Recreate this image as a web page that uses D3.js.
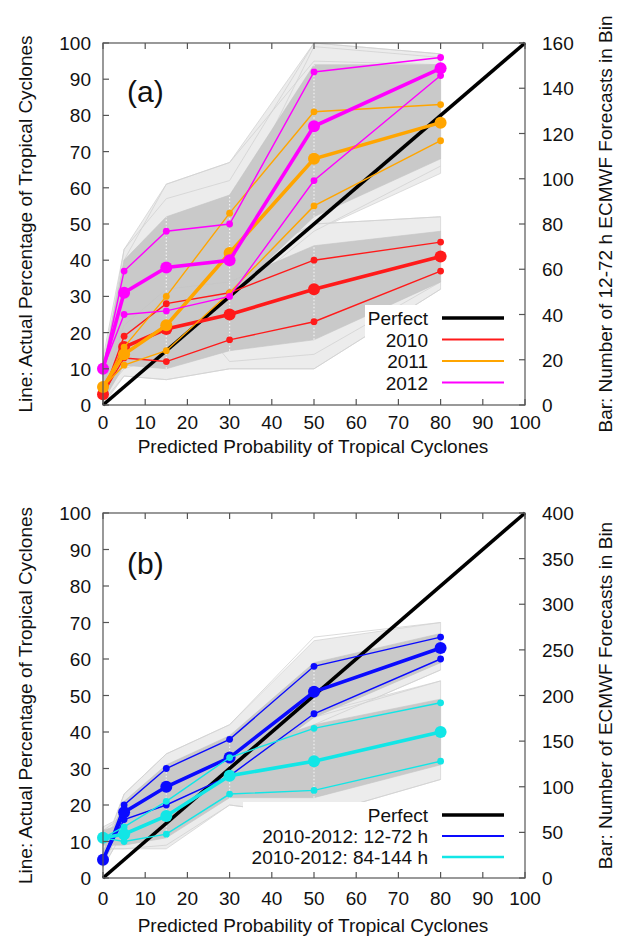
<!DOCTYPE html>
<html>
<head>
<meta charset="utf-8">
<script src="https://cdn.jsdelivr.net/npm/d3@7/dist/d3.min.js"></script>
<style>
  html, body { margin: 0; padding: 0; background: #fff; }
  svg { display: block; }
  text { font-family: "Liberation Sans", Arial, Helvetica, sans-serif; fill: #111; }
</style>
</head>
<body>
<svg id="chart" width="621" height="937"></svg>
<script>
// Forecast probability bins (x positions of every reliability curve)
const probBins = [0, 5, 15, 30, 50, 80];
const xTicks = [0, 10, 20, 30, 40, 50, 60, 70, 80, 90, 100];
const yTicks = [0, 10, 20, 30, 40, 50, 60, 70, 80, 90, 100];
const y2TicksA = [0, 20, 40, 60, 80, 100, 120, 140, 160];
const y2TicksB = [0, 50, 100, 150, 200, 250, 300, 350, 400];

// Panel (a): yearly reliability, 12-72 h
const rel2010 = [3, 16, 21, 25, 32, 41];
const rel2010Hi = [3, 19, 28, 31, 40, 45];
const rel2010Lo = [3, 13, 12, 18, 23, 37];
const rel2011 = [5, 14, 22, 42, 68, 78];
const rel2011Hi = [5, 16, 30, 53, 81, 83];
const rel2011Lo = [5, 11, 15, 31, 55, 73];
const rel2012 = [10, 31, 38, 40, 77, 93];
const rel2012Hi = [10, 37, 48, 50, 92, 96];
const rel2012Lo = [10, 25, 26, 30, 62, 91];

// Panel (b): 2010-2012 by lead time
const relShort = [5, 18, 25, 33, 51, 63];
const relShortHi = [5, 20, 30, 38, 58, 66];
const relShortLo = [5, 16, 20, 28, 45, 60];
const relLong = [11, 12, 17, 28, 32, 40];
const relLongHi = [11, 14, 21, 33, 41, 48];
const relLongLo = [11, 10, 12, 23, 24, 32];

// Bootstrap resample clouds: dense core and full spread (lo/hi per bin)
const bootA_upperCoreLo = [3, 12, 16, 30, 52, 68];
const bootA_upperCoreHi = [11, 40, 52, 58, 94, 94];
const bootA_upperAllLo = [2, 10, 14, 28, 48, 64];
const bootA_upperAllHi = [13, 43, 61, 67, 100, 97];
const bootA_lowerCoreLo = [1, 11, 10, 15, 18, 34];
const bootA_lowerCoreHi = [5, 22, 32, 34, 44, 48];
const bootA_lowerAllLo = [0, 8, 7, 10, 10, 32];
const bootA_lowerAllHi = [6, 24, 36, 38, 50, 52];

const bootB_shortCoreLo = [4, 15, 19, 27, 44, 59];
const bootB_shortCoreHi = [7, 21, 31, 39, 59, 67];
const bootB_shortAllLo = [3, 13, 17, 25, 42, 57];
const bootB_shortAllHi = [8, 23, 34, 42, 65, 70];
const bootB_longCoreLo = [9, 9, 11, 22, 22, 31];
const bootB_longCoreHi = [13, 15, 22, 34, 42, 49];
const bootB_longAllLo = [8, 8, 8, 20, 17, 27];
const bootB_longAllHi = [14, 17, 24, 36, 45, 54];

// A few individual outlying resamples
const bootA_strays = [
  [8, 43, 57, 62, 100, 97],
  [6, 40, 61, 67, 95, 94],
  [4, 35, 49, 52, 99, 96],
  [3, 10, 14, 29, 48, 66],
  [2, 24, 36, 38, 50, 52],
  [1, 8, 7, 10, 10, 32],
  [4, 22, 33, 12, 14, 34]
];
const bootB_strays = [
  [7, 23, 34, 42, 66, 70],
  [3, 13, 17, 26, 42, 57],
  [13, 17, 24, 36, 44, 54],
  [8, 8, 9, 20, 17, 27]
];

const svg = d3.select("#chart");

function drawPanel(cfg) {
  const x = d3.scaleLinear().domain([0, 100]).range([103, 525]);
  const y = d3.scaleLinear().domain([0, 100]).range([cfg.bottom, cfg.top]);
  const y2 = d3.scaleLinear().domain([0, cfg.y2max]).range([cfg.bottom, cfg.top]);
  const g = svg.append("g");

  const band = (lo, hi) => d3.area()
    .x((d, i) => x(probBins[i]))
    .y0((d, i) => y(lo[i]))
    .y1((d, i) => y(hi[i]))(probBins);
  const line = d3.line().x((d, i) => x(probBins[i])).y(d => y(d));

  // bootstrap clouds: wide spread, stray members, then dense core
  cfg.clouds.forEach(c => {
    g.append("path").attr("d", band(c.allLo, c.allHi))
      .attr("fill", "#ececec").attr("stroke", "#d4d4d4").attr("stroke-width", 0.8);
  });
  cfg.strays.forEach(s => {
    g.append("path").attr("d", line(s)).attr("fill", "none")
      .attr("stroke", "#d2d2d2").attr("stroke-width", 0.8);
  });
  cfg.clouds.forEach(c => {
    g.append("path").attr("d", band(c.coreLo, c.coreHi))
      .attr("fill", "#c9c9c9").attr("stroke", "#c4c4c4").attr("stroke-width", 0.6);
    // faint count bars running through the cloud at the inner bins
    [2, 3, 4].forEach(i => {
      g.append("line")
        .attr("x1", x(probBins[i])).attr("x2", x(probBins[i]))
        .attr("y1", y(c.coreLo[i])).attr("y2", y(c.coreHi[i]))
        .attr("stroke", "#f2f2f2").attr("stroke-width", 1.2)
        .attr("stroke-dasharray", "1.5,2");
    });
  });

  // perfect reliability diagonal
  g.append("line")
    .attr("x1", x(0)).attr("y1", y(0)).attr("x2", x(100)).attr("y2", y(100))
    .attr("stroke", "#000").attr("stroke-width", 3.6);

  // reliability curves with their 5-95% bounds
  cfg.series.forEach(s => {
    [s.lo, s.hi].forEach(b => {
      g.append("path").attr("d", line(b)).attr("fill", "none")
        .attr("stroke", s.color).attr("stroke-width", 1.4);
    });
    g.append("path").attr("d", line(s.main)).attr("fill", "none")
      .attr("stroke", s.color).attr("stroke-width", 3.6);
    [s.lo, s.hi].forEach(b => {
      g.selectAll(null).data(b.slice(1)).enter().append("circle")
        .attr("cx", (d, i) => x(probBins[i + 1])).attr("cy", d => y(d))
        .attr("r", 3.4).attr("fill", s.color);
    });
    g.selectAll(null).data(s.main).enter().append("circle")
      .attr("cx", (d, i) => x(probBins[i])).attr("cy", d => y(d))
      .attr("r", 6).attr("fill", s.color);
  });

  // legend with opaque background
  const lg = cfg.legend;
  g.append("rect").attr("x", lg.boxX).attr("y", lg.rows[0] - 13)
    .attr("width", 515 - lg.boxX).attr("height", lg.rows[lg.rows.length - 1] - lg.rows[0] + 26)
    .attr("fill", "#fff");
  lg.items.forEach((it, i) => {
    g.append("text").attr("x", 428).attr("y", lg.rows[i] + 7)
      .attr("text-anchor", "end").attr("font-size", 19).text(it.label);
    g.append("line").attr("x1", 442).attr("x2", 504)
      .attr("y1", lg.rows[i]).attr("y2", lg.rows[i])
      .attr("stroke", it.color).attr("stroke-width", it.width);
  });

  // frame and inward ticks
  const axisColor = "#555";
  g.append("rect").attr("x", x(0)).attr("y", y(100))
    .attr("width", x(100) - x(0)).attr("height", y(0) - y(100))
    .attr("fill", "none").attr("stroke", axisColor).attr("stroke-width", 1.2);
  xTicks.forEach(t => {
    g.append("line").attr("x1", x(t)).attr("x2", x(t)).attr("y1", y(0)).attr("y2", y(0) - 6)
      .attr("stroke", axisColor).attr("stroke-width", 1.2);
    g.append("line").attr("x1", x(t)).attr("x2", x(t)).attr("y1", y(100)).attr("y2", y(100) + 6)
      .attr("stroke", axisColor).attr("stroke-width", 1.2);
    g.append("text").attr("x", x(t)).attr("y", cfg.bottom + cfg.xTickDy)
      .attr("text-anchor", "middle").attr("font-size", 19).text(t);
  });
  yTicks.forEach(t => {
    g.append("line").attr("x1", x(0)).attr("x2", x(0) + 6).attr("y1", y(t)).attr("y2", y(t))
      .attr("stroke", axisColor).attr("stroke-width", 1.2);
    g.append("text").attr("x", 91).attr("y", y(t) + 7)
      .attr("text-anchor", "end").attr("font-size", 19).text(t);
  });
  cfg.y2ticks.forEach(t => {
    g.append("line").attr("x1", x(100)).attr("x2", x(100) - 6).attr("y1", y2(t)).attr("y2", y2(t))
      .attr("stroke", axisColor).attr("stroke-width", 1.2);
    g.append("text").attr("x", 542).attr("y", y2(t) + 7)
      .attr("text-anchor", "start").attr("font-size", 19).text(t);
  });

  // axis titles
  const midY = (cfg.top + cfg.bottom) / 2;
  g.append("text").attr("transform", `translate(32,${midY}) rotate(-90)`)
    .attr("text-anchor", "middle").attr("font-size", 19)
    .text("Line: Actual Percentage of Tropical Cyclones");
  g.append("text").attr("transform", `translate(612,${midY}) rotate(-90)`)
    .attr("text-anchor", "middle").attr("font-size", 19)
    .text(cfg.y2title);
  g.append("text").attr("x", (x(0) + x(100)) / 2 - 1).attr("y", cfg.xTitleY)
    .attr("text-anchor", "middle").attr("font-size", 19)
    .text("Predicted Probability of Tropical Cyclones");

  // panel tag
  g.append("text").attr("x", 127).attr("y", cfg.tagY)
    .attr("font-family", "'Open Sans', sans-serif").attr("font-size", 30)
    .text(cfg.tag);
}

drawPanel({
  top: 43, bottom: 405, y2max: 160, y2ticks: y2TicksA,
  y2title: "Bar: Number of 12-72 h ECMWF Forecasts in Bin",
  xTickDy: 24, xTitleY: 453, tag: "(a)", tagY: 102,
  clouds: [
    { coreLo: bootA_upperCoreLo, coreHi: bootA_upperCoreHi, allLo: bootA_upperAllLo, allHi: bootA_upperAllHi },
    { coreLo: bootA_lowerCoreLo, coreHi: bootA_lowerCoreHi, allLo: bootA_lowerAllLo, allHi: bootA_lowerAllHi }
  ],
  strays: bootA_strays,
  series: [
    { main: rel2010, hi: rel2010Hi, lo: rel2010Lo, color: "#ff1a1a" },
    { main: rel2011, hi: rel2011Hi, lo: rel2011Lo, color: "#ffa500" },
    { main: rel2012, hi: rel2012Hi, lo: rel2012Lo, color: "#ff00ff" }
  ],
  legend: {
    boxX: 365, rows: [318, 339.5, 361, 382.5],
    items: [
      { label: "Perfect", color: "#000", width: 3.6 },
      { label: "2010", color: "#ff1a1a", width: 2 },
      { label: "2011", color: "#ffa500", width: 2 },
      { label: "2012", color: "#ff00ff", width: 2 }
    ]
  }
});

drawPanel({
  top: 513, bottom: 878, y2max: 400, y2ticks: y2TicksB,
  y2title: "Bar: Number of ECMWF Forecasts in Bin",
  xTickDy: 27, xTitleY: 932, tag: "(b)", tagY: 574,
  clouds: [
    { coreLo: bootB_shortCoreLo, coreHi: bootB_shortCoreHi, allLo: bootB_shortAllLo, allHi: bootB_shortAllHi },
    { coreLo: bootB_longCoreLo, coreHi: bootB_longCoreHi, allLo: bootB_longAllLo, allHi: bootB_longAllHi }
  ],
  strays: bootB_strays,
  series: [
    { main: relShort, hi: relShortHi, lo: relShortLo, color: "#0a0aff" },
    { main: relLong, hi: relLongHi, lo: relLongLo, color: "#12e6e6" }
  ],
  legend: {
    boxX: 243, rows: [815, 836, 857],
    items: [
      { label: "Perfect", color: "#000", width: 3.6 },
      { label: "2010-2012: 12-72 h", color: "#0a0aff", width: 2 },
      { label: "2010-2012: 84-144 h", color: "#12e6e6", width: 2.5 }
    ]
  }
});
</script>
</body>
</html>
